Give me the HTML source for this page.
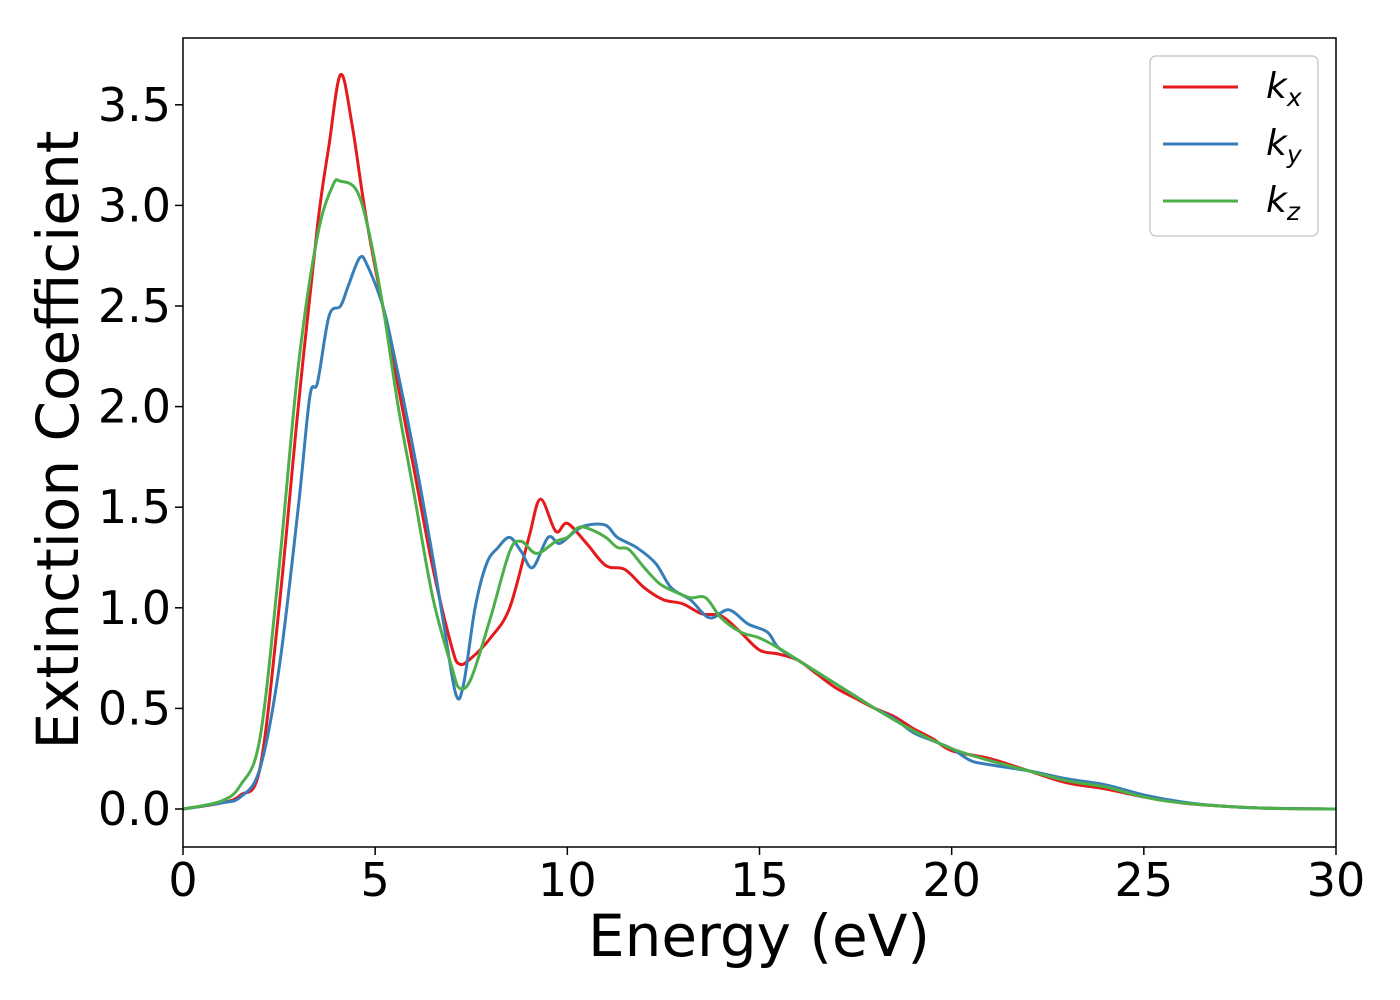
<!DOCTYPE html>
<html><head><meta charset="utf-8"><style>body{margin:0;background:#fff}svg{display:block}text{font-family:"DejaVu Sans","Liberation Sans",sans-serif}</style></head>
<body>
<svg id="c" width="1400" height="1000"></svg>
<script>
const xTicks=[0,5,10,15,20,25,30];
const yTicks=[0.0,0.5,1.0,1.5,2.0,2.5,3.0,3.5];
const seriesNames=["k_x","k_y","k_z"];
const kxData=[[0,0],[1,0.03],[1.5,0.07],[2,0.2],[2.5,1.0],[3,2.0],[3.5,2.9],[3.8,3.3],[4.1,3.65],[4.4,3.4],[4.8,2.9],[5.5,2.2],[6,1.7],[6.5,1.2],[7,0.8],[7.2,0.72],[7.5,0.75],[8,0.85],[8.5,1.0],[9,1.35],[9.3,1.54],[9.7,1.38],[10,1.42],[10.5,1.32],[11,1.21],[11.5,1.19],[12,1.1],[12.5,1.04],[13,1.02],[13.5,0.97],[14,0.96],[14.5,0.88],[15,0.79],[15.5,0.77],[16,0.74],[16.5,0.67],[17,0.6],[17.5,0.55],[18,0.5],[18.5,0.46],[19,0.4],[19.5,0.35],[20,0.29],[21,0.25],[22,0.19],[23,0.13],[24,0.1],[25,0.06],[26,0.03],[27,0.015],[28,0.005],[30,0]];
const kyData=[[0,0],[1,0.03],[1.5,0.06],[2,0.2],[2.5,0.7],[3,1.5],[3.3,2.05],[3.5,2.12],[3.8,2.45],[4.1,2.5],[4.3,2.6],[4.6,2.74],[4.8,2.7],[5.2,2.5],[5.5,2.25],[6,1.78],[6.5,1.25],[6.8,0.9],[7.1,0.57],[7.3,0.62],[7.6,1.0],[7.9,1.22],[8.2,1.3],[8.5,1.35],[8.8,1.28],[9.1,1.2],[9.5,1.35],[9.8,1.32],[10.2,1.38],[10.5,1.41],[11,1.41],[11.3,1.35],[11.8,1.3],[12.3,1.22],[12.7,1.1],[13.2,1.04],[13.7,0.95],[14.2,0.99],[14.7,0.92],[15.2,0.88],[15.5,0.8],[16,0.74],[16.5,0.68],[17,0.62],[17.5,0.56],[18,0.5],[18.5,0.45],[19,0.38],[19.5,0.34],[20,0.3],[20.5,0.24],[21,0.22],[22,0.19],[23,0.15],[24,0.12],[25,0.07],[26,0.035],[27,0.015],[28,0.005],[30,0]];
const kzData=[[0,0],[1,0.04],[1.5,0.12],[2,0.35],[2.5,1.2],[3,2.2],[3.5,2.85],[3.9,3.1],[4.1,3.12],[4.5,3.08],[4.8,2.9],[5.2,2.5],[5.6,2.0],[6,1.58],[6.5,1.05],[7,0.7],[7.2,0.6],[7.5,0.65],[8,0.95],[8.5,1.28],[8.8,1.33],[9.2,1.27],[9.7,1.33],[10,1.35],[10.3,1.4],[10.6,1.39],[11,1.35],[11.3,1.3],[11.6,1.29],[12,1.2],[12.4,1.12],[12.8,1.08],[13.2,1.05],[13.6,1.05],[14,0.95],[14.5,0.88],[15,0.85],[15.5,0.8],[16,0.74],[16.5,0.68],[17,0.62],[18,0.5],[19,0.39],[20,0.3],[21,0.24],[22,0.19],[23,0.14],[24,0.11],[25,0.06],[26,0.03],[28,0.005],[30,0]];
const colors=["#e41a1c","#377eb8","#4daf4a"];
const L=183,R=1336,T=38,B=847;
const X=v=>L+(v-0)/30*(R-L);
const Y=v=>809-v*201.2;
const svg=document.getElementById('c');
const NS='http://www.w3.org/2000/svg';
function mk(t,a){const e=document.createElementNS(NS,t);for(const k in a)e.setAttribute(k,a[k]);svg.appendChild(e);return e;}
function path(d){const p=d.map(q=>[X(q[0]),Y(q[1])]);let s=`M${p[0][0]},${p[0][1]}`;for(let i=0;i<p.length-1;i++){const p0=p[i-1]||p[i],p1=p[i],p2=p[i+1],p3=p[i+2]||p2;s+=` C${p1[0]+(p2[0]-p0[0])/6},${p1[1]+(p2[1]-p0[1])/6} ${p2[0]-(p3[0]-p1[0])/6},${p2[1]-(p3[1]-p1[1])/6} ${p2[0]},${p2[1]}`;}return s;}
[kxData,kyData,kzData].forEach((d,i)=>{const e=mk('path',{d:path(d),fill:'none',stroke:colors[i],'stroke-width':3});

});
const fr=mk('rect',{x:L,y:T,width:R-L,height:B-T,fill:'none',stroke:'#000','stroke-width':1.5});


xTicks.forEach(v=>{mk('line',{x1:X(v),x2:X(v),y1:B,y2:B+8,stroke:'#000','stroke-width':1.5});
const t=mk('text',{x:X(v),y:B+49,'font-size':46,'text-anchor':'middle'});t.textContent=v;

});
yTicks.forEach(v=>{mk('line',{x1:L-8,x2:L,y1:Y(v),y2:Y(v),stroke:'#000','stroke-width':1.5});
const t=mk('text',{x:L-12,y:Y(v)+16,'font-size':46,'text-anchor':'end'});t.textContent=v.toFixed(1);

});
const xt=mk('text',{x:759,y:956,'font-size':58,'text-anchor':'middle'});xt.textContent='Energy (eV)';


const yt=mk('text',{x:0,y:0,'font-size':58,'text-anchor':'middle',transform:'translate(78,440) rotate(-90)'});yt.textContent='Extinction Coefficient';


const lg=mk('rect',{x:1150,y:56,width:168,height:180,rx:6,fill:'#fff',stroke:'#ccc','stroke-width':1.5});


seriesNames.forEach((n,i)=>{const y=87+i*57;mk('line',{x1:1163,x2:1238,y1:y,y2:y,stroke:colors[i],'stroke-width':3});
const t=mk('text',{x:1266,y:y+11,'font-size':36,'font-style':'italic'});t.innerHTML='k<tspan font-size="25" dy="8">'+n.split('_')[1]+'</tspan>';

});
</script>
</body></html>
